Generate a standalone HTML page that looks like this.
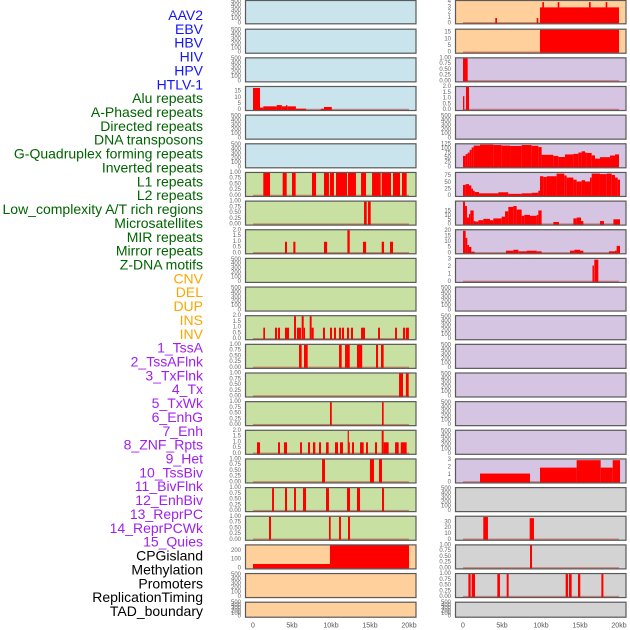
<!DOCTYPE html>
<html><head><meta charset="utf-8"><style>
html,body{margin:0;padding:0;background:#fff;}
svg{display:block;font-family:"Liberation Sans",sans-serif;}
</style></head><body>
<svg id="chart" width="630" height="630" viewBox="0 0 630 630" xmlns="http://www.w3.org/2000/svg"></svg>
<script>
const labels = ["AAV2","EBV","HBV","HIV","HPV","HTLV-1","Alu repeats","A-Phased repeats","Directed repeats","DNA transposons","G-Quadruplex forming repeats","Inverted repeats","L1 repeats","L2 repeats","Low_complexity A/T rich regions","Microsatellites","MIR repeats","Mirror repeats","Z-DNA motifs","CNV","DEL","DUP","INS","INV","1_TssA","2_TssAFlnk","3_TxFlnk","4_Tx","5_TxWk","6_EnhG","7_Enh","8_ZNF_Rpts","9_Het","10_TssBiv","11_BivFlnk","12_EnhBiv","13_ReprPC","14_ReprPCWk","15_Quies","CPGisland","Methylation","Promoters","ReplicationTiming","TAD_boundary"];
const labelColors = ["#1414ff","#1414ff","#1414ff","#1414ff","#1414ff","#1414ff","#006400","#006400","#006400","#006400","#006400","#006400","#006400","#006400","#006400","#006400","#006400","#006400","#006400","#ffa500","#ffa500","#ffa500","#ffa500","#ffa500","#a020f0","#a020f0","#a020f0","#a020f0","#a020f0","#a020f0","#a020f0","#a020f0","#a020f0","#a020f0","#a020f0","#a020f0","#a020f0","#a020f0","#a020f0","#000","#000","#000","#000","#000"];
const panelBg = ["#c9e4ec","#c9e4ec","#c9e4ec","#c9e4ec","#c9e4ec","#c9e4ec","#c8e0a2","#c8e0a2","#c8e0a2","#c8e0a2","#c8e0a2","#c8e0a2","#c8e0a2","#c8e0a2","#c8e0a2","#c8e0a2","#c8e0a2","#c8e0a2","#c8e0a2","#ffd09c","#ffd09c","#ffd09c","#ffd09c","#ffd09c","#d5c5e2","#d5c5e2","#d5c5e2","#d5c5e2","#d5c5e2","#d5c5e2","#d5c5e2","#d5c5e2","#d5c5e2","#d5c5e2","#d5c5e2","#d5c5e2","#d5c5e2","#d5c5e2","#d5c5e2","#d3d3d3","#d3d3d3","#d3d3d3","#d3d3d3","#d3d3d3"];
const xTicks = [0,5,10,15,20];
const xTickLabels = ["0","5kb","10kb","15kb","20kb"];
const ticksEmpty = [0,100,200,300,400,500];
const ticksBin = [0,0.25,0.5,0.75,1.0];
const ticksTwo = [0,0.5,1.0,1.5,2.0];
// segments: [startKb, endKb, value]
const segHIV = [[0,0.9,18],[0.9,1.32,2],[1.32,3.03,3],[3.03,3.7,4],[3.7,4.23,3],[4.23,4.4,4],[4.4,5.5,3],[5.5,6.8,1.1],[8.7,9.1,1],[9.1,10.1,2.5]];
const segAlu = [[1.32,2.18,1],[3.8,4.32,1],[5.0,5.47,1],[7.56,8.08,1],[9.1,9.74,1],[9.87,10.38,1],[10.64,12.05,1],[12.18,13.2,1],[13.85,14.49,1],[15.26,16.37,1],[16.5,17.69,1],[17.95,18.85,1],[19.1,19.7,1]];
const segAPhased = [[14.23,14.58,1],[14.74,15.09,1]];
const segDirected = [[4.1,4.36,1],[5.17,5.44,1],[9.1,9.5,1],[12.1,12.4,2],[14.1,14.5,1],[16.5,16.8,1],[17.56,17.95,1]];
const segInverted = [[1.32,1.54,1],[2.82,3.08,1],[3.21,3.46,1],[4.1,4.62,1],[5.26,5.51,2],[5.64,6.15,1],[6.24,6.5,2],[6.5,6.67,1],[7.27,7.52,2],[7.52,7.78,1],[8.97,9.23,1],[9.87,10.13,1],[10.38,10.64,1],[11.03,11.28,1],[11.41,11.67,1],[12.05,12.31,1],[12.56,12.82,1],[13.85,14.36,1],[16.03,16.28,1],[18.21,18.46,1],[19.23,19.49,1],[19.6,19.99,1]];
const segL1 = [[5.9,6.24,1],[6.54,7.01,1],[11.03,11.37,1],[11.8,12.4,1],[13.33,14.0,1],[15.77,16.03,1],[16.41,16.75,1]];
const segL2 = [[18.72,19.23,1],[19.6,19.96,1]];
const segLowComplex = [[9.87,10.1,1],[16.54,16.75,1]];
const segMicro = [[0.51,0.9,1],[3.21,3.46,1],[3.97,4.36,1],[6.03,6.28,1],[7.05,7.31,1],[7.69,7.99,1],[8.46,8.72,1],[9.36,9.7,1],[10.51,10.9,1],[11.15,11.54,1],[12.14,12.26,2],[12.26,12.39,1],[12.69,12.95,1],[13.72,14.19,1],[14.49,14.74,1],[15.64,15.9,1],[16.5,16.75,2],[16.75,17.39,1],[18.21,18.68,1],[18.94,19.7,1]];
const segMIR = [[8.85,9.23,1],[14.99,15.51,1],[16.15,16.54,1]];
const segMirror = [[2.44,2.69,1],[4.1,4.36,1],[5.26,5.51,1],[6.41,6.8,1],[9.36,9.74,1],[12.05,12.44,1],[13.33,13.72,1],[16.54,16.8,1]];
const segZDNA = [[2.05,2.31,1],[9.74,9.96,1],[11.03,11.28,1],[12.18,12.44,1]];
const segCNV = [[0,9.87,50],[9.87,20,262]];
const segINS = [[4.14,4.36,1],[9.45,9.65,1],[9.87,20,3],[10.17,10.38,4],[12.14,12.35,4],[16.15,16.37,4],[18.29,18.5,4]];
const segINV = [[9.87,20,17.2]];
const segTssA = [[0,0.6,1]];
const segTssAFlnk = [[0,0.17,1.2],[0.38,0.77,2]];
const segTx = [[0,0.34,62],[0.34,0.6,72],[0.6,0.855,80],[0.855,1.11,95],[1.11,1.37,108],[1.37,2.18,118],[2.18,3.89,123],[3.89,4.96,121],[4.96,6.03,118],[6.03,7.52,116],[7.52,8.8,121],[8.8,9.66,117],[9.66,10.08,110],[10.08,11.58,68],[11.58,12.22,62],[12.22,13.08,56],[13.08,14.15,70],[14.15,14.79,73],[14.79,15.21,80],[15.21,15.64,87],[15.64,15.85,80],[15.85,16.5,78],[16.5,16.92,65],[16.92,17.56,47],[17.56,18.85,55],[18.85,19.49,64],[19.49,20,70]];
const segTxWk = [[0,0.34,42],[0.34,0.77,45],[0.77,1.07,40],[1.07,1.28,28],[1.28,1.5,20],[1.5,2.05,15],[2.05,4.53,10],[4.53,5.81,14],[5.81,7.52,8],[7.52,8.8,10],[8.8,9.66,12],[9.66,9.87,20],[9.87,10.3,75],[10.3,10.72,72],[10.72,12.0,75],[12.0,12.99,85],[12.99,13.29,78],[13.29,14.15,70],[14.15,14.57,62],[14.57,15.21,55],[15.21,15.64,60],[15.64,16.28,55],[16.28,16.5,70],[16.5,17.56,85],[17.56,18.42,83],[18.42,19.06,85],[19.06,19.49,80],[19.49,19.83,70],[19.83,20.13,62]];
const segEnhG = [[0,0.26,26],[0.26,0.51,21],[0.51,0.77,8],[0.77,0.94,12],[0.94,1.37,16],[1.37,1.54,4],[1.54,1.97,3.5],[1.97,2.6,5],[2.6,3.46,6.5],[3.46,3.89,5],[3.89,4.96,7],[4.96,5.39,9],[5.39,5.81,15],[5.81,6.45,20],[6.45,6.88,21],[6.88,7.52,17],[7.52,7.86,10],[7.86,8.59,11],[8.59,9.45,10],[9.45,9.66,11],[9.66,10.08,16],[11.58,12.31,3],[14.15,14.57,7],[14.57,15.13,8],[15.13,15.43,4],[17.56,18.08,4],[19.28,20.13,6]];
const segEnh = [[0,0.34,20],[0.34,0.55,13.7],[0.55,0.77,7.4],[0.77,1.07,5.7],[1.07,1.5,1.4],[5.51,6.45,2.3],[6.45,7.09,3.1],[7.09,8.16,1.7],[8.16,9.45,2.3],[9.45,10.08,1.7],[13.72,14.27,2.3],[14.27,15.0,3.1],[15.0,15.43,2.3],[18.72,19.49,1.7],[19.49,19.7,2.3],[19.7,20.13,6.6]];
const segZNF = [[16.6,16.79,2.2],[16.83,17.35,3]];
const segQuies = [[2.18,8.59,1.2],[9.87,14.57,2],[14.57,17.65,3],[17.65,19.19,2],[19.19,20.13,3]];
const segMethyl = [[2.6,3.2,39],[8.55,9.1,37]];
const segPromoters = [[8.59,8.85,1]];
const segRepTiming = [[0.69,0.98,1],[1.11,1.54,1],[4.4,4.74,1],[5.6,5.85,1],[13.16,13.46,1],[13.59,13.93,1],[14.74,15.04,1],[17.74,18.0,1]];
// per-panel config: [segments, yMax, tickValues, tickText]
const E = [null,520,ticksEmpty,["0","100","200","300","400","500"]];
const B = ["0.00","0.25","0.50","0.75","1.00"];
const T2 = ["0.0","0.5","1.0","1.5","2.0"];
const panels = [
 E,E,E,[segHIV,18.8,[0,5,10,15],["0","5","10","15"]],E,E,
 [segAlu,1.0,ticksBin,B],[segAPhased,1.0,ticksBin,B],[segDirected,2.0,ticksTwo,T2],E,E,
 [segInverted,2.0,ticksTwo,T2],[segL1,1.0,ticksBin,B],[segL2,1.0,ticksBin,B],[segLowComplex,1.0,ticksBin,B],
 [segMicro,2.0,ticksTwo,T2],[segMIR,1.0,ticksBin,B],[segMirror,1.0,ticksBin,B],[segZDNA,1.0,ticksBin,B],
 [segCNV,262,[0,100,200],["0","100","200"]],E,E,
 [segINS,4.2,[0,1,2,3,4],["0","1","2","3","4"]],[segINV,17.2,[0,5,10,15],["0","5","10","15"]],
 [segTssA,1.0,ticksBin,B],[segTssAFlnk,2.0,ticksTwo,T2],E,
 [segTx,125,[0,25,50,75,100,125],["0","25","50","75","100","125"]],
 [segTxWk,87.5,[0,25,50,75],["0","25","50","75"]],
 [segEnhG,26,[0,5,10,15],["0","5","10","15"]],
 [segEnh,20.5,[0,5,10,15,20],["0","5","10","15","20"]],
 [segZNF,3.1,[0,1,2,3],["0","1","2","3"]],
 E,E,E,E,E,E,[segQuies,3.1,[0,1,2,3],["0","1","2","3"]],
 E,[segMethyl,39.5,[0,10,20,30],["0","10","20","30"]],[segPromoters,1.0,ticksBin,B],[segRepTiming,1.0,ticksBin,B],E
];
const NS = "http://www.w3.org/2000/svg";
const svg = document.getElementById("chart");
function mk(tag, attrs, parent){const e=document.createElementNS(NS,tag);for(const k in attrs)e.setAttribute(k,attrs[k]);(parent||svg).appendChild(e);return e;}
function rowTop(r){return r===0?0:28.7+(r-1)*28.65;}
function rowH(r){return r===21?16:(r===0?24.3:25);}
const colX = [245,455];
const panelW = 171.5;
function xScale(col, kb){return colX[col]+8+kb*7.8;}

labels.forEach((t,i)=>{
  const tx=mk("text",{x:203,y:15+i*13.86,"text-anchor":"end","dominant-baseline":"central","font-size":"14",fill:labelColors[i]});
  tx.textContent=t;
  
  
});

panels.forEach((p,i)=>{
  const col = i<22?0:1, r = i%22;
  const top=rowTop(r), h=rowH(r), bottom=top+h;
  const g=mk("g",{});
  
  
  const bg=mk("rect",{x:colX[col],y:top,width:panelW,height:h,fill:panelBg[i]},g);
  
  
  const [segs,yMax,tv,tt]=p;
  const yS=v=>bottom-1-(v/yMax)*(h-2);
  if(segs){
    const base=mk("rect",{x:xScale(col,0),y:bottom-2.2,width:xScale(col,20)-xScale(col,0),height:1.6,fill:"#c0392b","fill-opacity":"0.55"},g);
    
    
    segs.forEach(s=>{
      const x0=xScale(col,Math.max(s[0],-0.2)), x1=xScale(col,s[1]);
      const y=yS(s[2]);
      const b=mk("rect",{x:x0,y:y,width:Math.max(x1-x0,1.2),height:bottom-1-y,fill:"#ff0000"},g);
      
      
    });
  }
  const fr=mk("rect",{x:colX[col]+0.5,y:top+0.5,width:panelW-1,height:h-1,fill:"none",stroke:"#5a5a5a","stroke-width":"1.2"},g);
  
  
  tv.forEach((v,k)=>{
    const t=mk("text",{x:colX[col]-4,y:yS(v),"text-anchor":"end","dominant-baseline":"central","font-size":"6",fill:"#666"},g);
    t.textContent=tt[k];
    
    
  });
});

[0,1].forEach(col=>{
  xTicks.forEach((v,k)=>{
    const t=mk("text",{x:xScale(col,v),y:626,"text-anchor":"middle","dominant-baseline":"central","font-size":"7",fill:"#555"});
    t.textContent=xTickLabels[k];
    
    
  });
});
</script>
</body></html>
